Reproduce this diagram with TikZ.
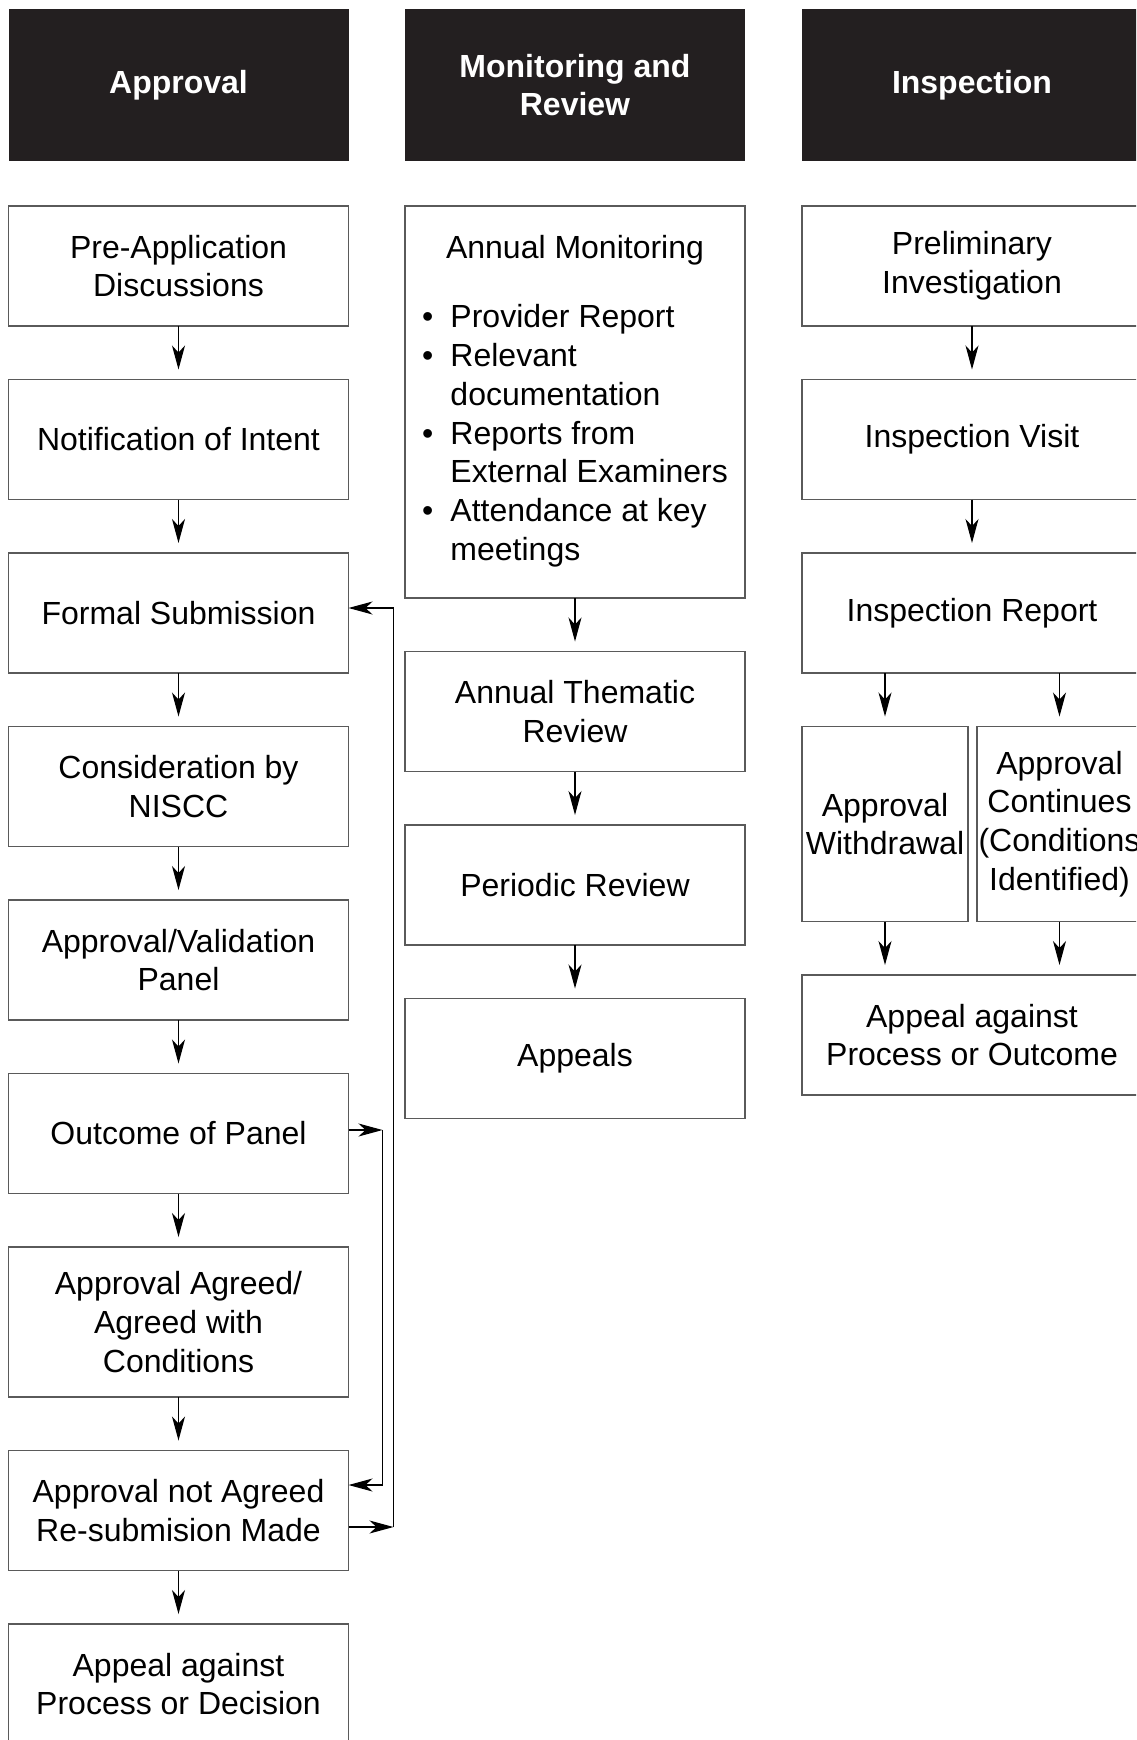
\documentclass[tikz,border=0pt]{standalone}
\usepackage{fontspec}
\setmainfont{Liberation Sans}
\usepackage{tikz}
\usetikzlibrary{positioning}
\usetikzlibrary{arrows.meta}
\definecolor{headfill}{RGB}{35,31,32}
\definecolor{boxline}{RGB}{90,90,90}
\newcommand{\widthbox}{170pt}
\newcommand{\heightbox}{60pt}
\newcommand{\gapbox}{26.75pt}
\newcommand{\gaphead}{22.5pt}
\tikzset{
    common/.style={draw=boxline, line width=0.9pt, rectangle, align=center, inner sep=2pt, outer sep=0pt,
        font=\fontsize{16pt}{19.4pt}\selectfont},
    box/.style={common, minimum width=\widthbox, minimum height=\heightbox},
    halfbox/.style={common, minimum width=83pt, minimum height=97.5pt, inner xsep=0.3pt},
    header/.style={box, draw=none, fill=headfill, text=white, minimum height=76pt,
        font=\fontsize{16pt}{19pt}\selectfont\bfseries},
    flow/.style={line width=0.6pt, -{Stealth[length=12pt, width=6.5pt, inset=3.5pt]}},
    down/.style={flow, shorten >=5pt}
}

\begin{document}
\begin{tikzpicture}[node distance=\gapbox]
        \useasboundingbox (0,0) rectangle (568pt,-870pt);
        \clip (0,0) rectangle (568pt,-870pt);

        % approval column
        \node[header] (hApproval) at (89.25pt,-42.5pt) {Approval};
        \node[box, below=\gaphead of hApproval] (preApp) {Pre-Application\\Discussions};
        \node[box, below=of preApp] (notify) {Notification of Intent};
        \node[box, below=of notify] (formal) {Formal Submission};
        \node[box, below=of formal] (niscc) {Consideration by\\NISCC};
        \node[box, below=of niscc] (panel) {Approval/Validation\\Panel};
        \node[box, below=of panel] (outcome) {Outcome of Panel};
        \node[box, below=of outcome, minimum height=75pt] (agreed) {Approval Agreed/\\Agreed with\\Conditions};
        \node[box, below=of agreed] (resub) {Approval not Agreed\\Re-submision Made};
        \node[box, below=of resub] (decisionAppeal) {Appeal against\\Process or Decision};

        \draw[down] (preApp) -- (notify);
        \draw[down] (notify) -- (formal);
        \draw[down] (formal) -- (niscc);
        \draw[down] (niscc) -- (panel);
        \draw[down] (panel) -- (outcome);
        \draw[down] (outcome) -- (agreed);
        \draw[down] (agreed) -- (resub);
        \draw[down] (resub) -- (decisionAppeal);

        \coordinate (inner) at ([xshift=17pt, yshift=1.75pt]outcome.east);
        \coordinate (outer) at ([xshift=22.5pt, yshift=-8.25pt]resub.east);
        \draw[flow] ([yshift=1.75pt]outcome.east) -- (inner);
        \draw[flow] (inner) |- ([yshift=12.75pt]resub.east);
        \draw[flow] ([yshift=-8.25pt]resub.east) -- (outer);
        \draw[flow] (outer) |- ([yshift=2.5pt]formal.east);

        % monitoring column
        \node[header] (hMonitor) at (287.5pt,-42.5pt) {Monitoring and\\Review};
        \node[box, below=\gaphead of hMonitor, minimum height=196pt] (annual) {%
            \begin{tabular}{@{}l@{\hspace{8.6pt}}l@{}}
                \multicolumn{2}{c}{Annual Monitoring}\\[15pt]
                \textbullet & Provider Report\\
                \textbullet & Relevant\\
                            & documentation\\
                \textbullet & Reports from\\
                            & External Examiners\\
                \textbullet & Attendance at key\\
                            & meetings
            \end{tabular}};
        \node[box, below=of annual] (thematic) {Annual Thematic\\Review};
        \node[box, below=of thematic] (periodic) {Periodic Review};
        \node[box, below=of periodic] (appeals) {Appeals};

        \draw[down] (annual) -- (thematic);
        \draw[down] (thematic) -- (periodic);
        \draw[down] (periodic) -- (appeals);

        % inspection column
        \node[header] (hInspection) at (486pt,-42.5pt) {Inspection};
        \node[box, below=\gaphead of hInspection] (prelim) {Preliminary\\Investigation};
        \node[box, below=of prelim] (visit) {Inspection Visit};
        \node[box, below=of visit] (report) {Inspection Report};
        \node[halfbox, below right=\gapbox and 0pt of report.south west] (withdraw) {Approval\\Withdrawal};
        \node[halfbox, minimum width=82.5pt, below left=\gapbox and 0pt of report.south east] (continues)
            {Approval\\Continues\\(Conditions\\Identified)};
        \node[box, anchor=north] (outcomeAppeal) at ([yshift=-\gapbox]withdraw.south -| report.south)
            {Appeal against\\Process or Outcome};

        \draw[down] (prelim) -- (visit);
        \draw[down] (visit) -- (report);
        \draw[down] (report.south -| withdraw.north) -- (withdraw.north);
        \draw[down] (report.south -| continues.north) -- (continues.north);
        \draw[down] (withdraw.south) -- (withdraw.south |- outcomeAppeal.north);
        \draw[down] (continues.south) -- (continues.south |- outcomeAppeal.north);
\end{tikzpicture}
\end{document}
